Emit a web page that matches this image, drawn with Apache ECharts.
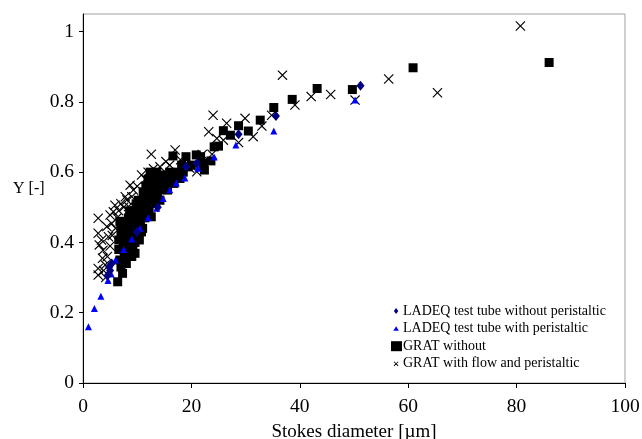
<!DOCTYPE html>
<html>
<head>
<meta charset="utf-8">
<script src="https://cdn.jsdelivr.net/npm/echarts@6/dist/echarts.min.js"></script>
<style>
html,body{margin:0;padding:0;background:#fff;}
#c{width:642px;height:439px;}
</style>
</head>
<body>
<div id="c"></div>
<script>
var seriesNames = ['LADEQ test tube without peristaltic','LADEQ test tube with peristaltic','GRAT without','GRAT with flow and peristaltic'];
var xTicks = [0,20,40,60,80,100];
var yTicks = [0,0.2,0.4,0.6,0.8,1];

var ladeqWithout = [[4.5,0.305],[5.0,0.32],[5.3,0.34],[4.8,0.33],[9.9,0.43],[13.8,0.50],[19.0,0.615],[21.0,0.625],[28.7,0.708],[35.6,0.760],[51.2,0.846]];

var ladeqWith = [[1.0,0.16],[2.1,0.212],[3.3,0.247],[4.6,0.292],[5.2,0.31],[6.0,0.35],[7.5,0.38],[9.0,0.41],[10.5,0.44],[12.0,0.47],[13.6,0.497],[14.8,0.525],[16.0,0.55],[17.2,0.569],[18.8,0.583],[21.2,0.611],[24.2,0.643],[28.2,0.677],[35.2,0.717],[50.2,0.805]];

var gratWithout = [[6.4,0.288],[7.3,0.312],[7.0,0.33],[6.8,0.35],[7.6,0.36],[6.6,0.38],[7.4,0.40],[6.6,0.407],[7.0,0.42],[7.0,0.445],[7.8,0.46],[6.8,0.46],[8.0,0.34],[8.4,0.37],[8.2,0.39],[8.6,0.41],[8.3,0.43],[8.8,0.45],[8.4,0.47],[9.6,0.369],[9.2,0.39],[9.6,0.40],[9.4,0.43],[9.2,0.473],[9.8,0.46],[9.5,0.49],[10.4,0.407],[10.2,0.44],[10.6,0.46],[10.0,0.48],[10.4,0.50],[10.2,0.52],[11.0,0.44],[11.4,0.47],[11.0,0.49],[11.5,0.51],[11.1,0.544],[11.6,0.56],[12.6,0.473],[12.2,0.49],[12.5,0.52],[12.2,0.55],[12.8,0.57],[13.0,0.587],[13.4,0.511],[13.8,0.53],[13.5,0.56],[14.0,0.58],[14.4,0.59],[14.5,0.55],[15.0,0.57],[15.3,0.592],[15.6,0.549],[16.2,0.57],[16.0,0.60],[16.8,0.568],[17.0,0.59],[17.9,0.582],[18.5,0.60],[19.4,0.615],[20.0,0.62],[16.6,0.646],[19.0,0.644],[20.9,0.649],[21.7,0.644],[22.2,0.625],[22.4,0.606],[23.6,0.632],[24.2,0.672],[25.0,0.674],[25.9,0.718],[27.2,0.705],[28.7,0.732],[30.5,0.717],[32.7,0.748],[35.2,0.784],[38.6,0.807],[43.2,0.838],[49.7,0.835],[60.9,0.897],[86.0,0.912],
  [7.2,0.38],[7.8,0.42],[8.0,0.44],[8.6,0.38],[9.0,0.36],[9.0,0.44],[9.8,0.42],[10.8,0.43],[10.8,0.52],[11.8,0.53],[12.0,0.58],[13.2,0.54],[14.2,0.52],[15.0,0.59],[13.6,0.60],[12.4,0.60],[11.8,0.50],[7.8,0.44],[8.6,0.49],[9.8,0.51],[15.5,0.58],[17.5,0.60],[18.2,0.62]];

var gratFlow = [[2.8,0.469],[2.8,0.426],[3.0,0.393],[2.8,0.326],[2.8,0.307],[3.4,0.407],[3.7,0.378],[3.6,0.355],[4.1,0.336],[4.4,0.445],[4.7,0.416],[5.0,0.478],[5.3,0.454],[5.6,0.487],[5.9,0.506],[4.2,0.30],[3.8,0.32],[4.5,0.36],[5.0,0.39],[5.4,0.42],[6.0,0.44],[6.3,0.47],[6.6,0.49],[7.0,0.51],[7.5,0.50],[8.1,0.521],[8.4,0.502],[8.7,0.563],[9.0,0.530],[9.3,0.549],[7.8,0.53],[10.0,0.56],[10.8,0.592],[11.5,0.58],[12.6,0.651],[12.0,0.60],[13.0,0.61],[14.2,0.615],[15.3,0.630],[16.0,0.62],[17.0,0.663],[18.0,0.635],[19.7,0.611],[21.0,0.601],[22.0,0.65],[23.8,0.651],[23.2,0.715],[24.0,0.762],[24.7,0.696],[25.9,0.691],[26.5,0.739],[28.7,0.684],[29.9,0.753],[31.4,0.701],[33.0,0.731],[34.8,0.762],[36.8,0.876],[39.1,0.791],[42.1,0.815],[45.7,0.821],[50.2,0.805],[56.4,0.865],[65.4,0.826],[80.7,1.016]];

var crossPath = 'path://M0,0.8 L0.8,0 L5,4.2 L9.2,0 L10,0.8 L5.8,5 L10,9.2 L9.2,10 L5,5.8 L0.8,10 L0,9.2 L4.2,5 Z';
// legend icons: small glyphs inside a 10x10 box (tiny corner anchors keep the box size)
var anchors = 'M0,0 L0.01,0 L0,0.01 Z M10,10 L9.99,10 L10,9.99 Z ';
var legDiamond = 'path://' + anchors + 'M4.6,2 L6.8,5 L4.6,8 L2.4,5 Z';
var legTriangle = 'path://' + anchors + 'M4.6,2.6 L7.4,7.2 L1.8,7.2 Z';
var legCross = 'path://' + anchors + 'M2.2,3.2 L2.8,2.6 L4.6,4.4 L6.4,2.6 L7.0,3.2 L5.2,5 L7.0,6.8 L6.4,7.4 L4.6,5.6 L2.8,7.4 L2.2,6.8 L4.0,5 Z';
var FONT = 'Liberation Serif';

var chart = echarts.init(document.getElementById('c'), null, {renderer:'canvas'});
chart.setOption({
  animation: false,
  backgroundColor: '#fff',
  textStyle: {fontFamily: FONT, color: '#000'},
  grid: {left: 83, right: 17, top: 14, bottom: 56, containLabel: false, outerBoundsMode: 'none', show: true, borderColor: '#a0a0a0', borderWidth: 1, backgroundColor: 'transparent'},
  xAxis: {
    type: 'value', min: xTicks[0], max: xTicks[xTicks.length-1], interval: 20,
    name: 'Stokes diameter [\u00b5m]', nameLocation: 'middle', nameGap: 40,
    nameTextStyle: {fontFamily: FONT, fontSize: 19, color: '#000'},
    axisLine: {show: true, lineStyle: {color: '#000', width: 1}},
    axisTick: {show: true, inside: false, length: 5, lineStyle: {color: '#000'}},
    axisLabel: {fontFamily: FONT, fontSize: 19.5, color: '#000', margin: 14},
    splitLine: {show: false}
  },
  yAxis: {
    type: 'value', min: 0, max: 1.05, interval: 0.2,
    axisLine: {show: true, lineStyle: {color: '#000', width: 1}},
    axisTick: {show: true, inside: false, length: 4, lineStyle: {color: '#000'}},
    axisLabel: {fontFamily: FONT, fontSize: 19.5, color: '#000', margin: 9, showMaxLabel: false,
      formatter: function(v){ var r = Math.round(v*10)/10; return (Math.abs(v - r) < 1e-6 && yTicks.indexOf(r) >= 0) ? String(r) : ''; }},
    splitLine: {show: false}
  },
  graphic: [{
    type: 'text', left: 13, top: 181,
    style: {text: 'Y [-]', fontFamily: FONT, fontSize: 16, fill: '#000'}
  }],
  legend: {
    orient: 'vertical', left: 391, top: 304, padding: 0, itemGap: 3.6, itemWidth: 11, itemHeight: 10,
    selectedMode: false,
    textStyle: {fontFamily: FONT, fontSize: 14, color: '#000', padding: [0,0,0,-4]},
    data: [
      {name: seriesNames[0], icon: legDiamond, itemStyle: {color: '#000080'}},
      {name: seriesNames[1], icon: legTriangle, itemStyle: {color: '#0000ff'}},
      {name: seriesNames[2], icon: 'rect', itemStyle: {color: '#000'}},
      {name: seriesNames[3], icon: legCross, itemStyle: {color: '#000'}}
    ]
  },
  series: [
    {name: seriesNames[3], type: 'scatter', data: gratFlow, symbol: crossPath, symbolSize: 10, itemStyle: {color: '#000', opacity: 1}, z: 2},
    {name: seriesNames[2], type: 'scatter', data: gratWithout, symbol: 'rect', symbolSize: 9, itemStyle: {color: '#000', opacity: 1}, z: 3},
    {name: seriesNames[1], type: 'scatter', data: ladeqWith, symbol: 'triangle', symbolSize: [7,7], itemStyle: {color: '#0000ff', opacity: 1}, z: 4},
    {name: seriesNames[0], type: 'scatter', data: ladeqWithout, symbol: 'diamond', symbolSize: [8,10], itemStyle: {color: '#000080', opacity: 1}, z: 5}
  ]
});
</script>
</body>
</html>
